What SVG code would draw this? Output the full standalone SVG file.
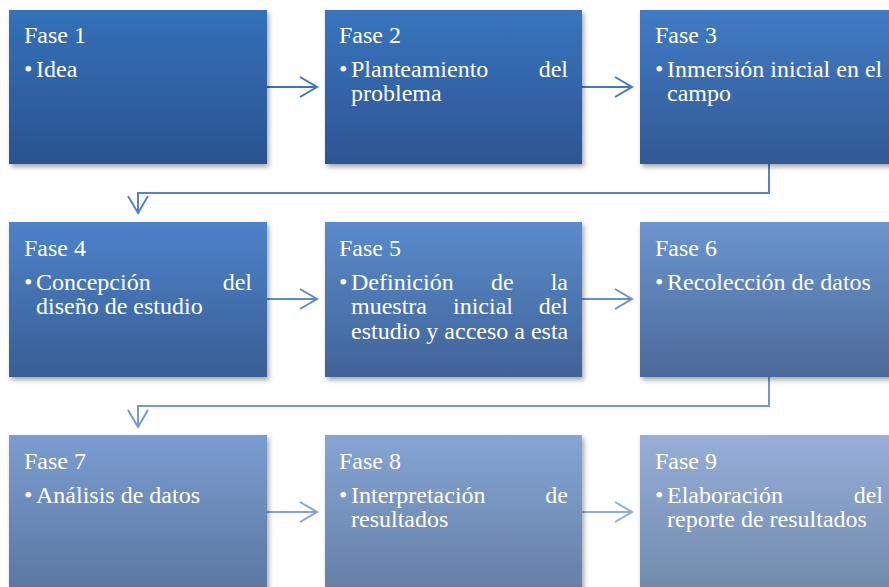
<svg xmlns="http://www.w3.org/2000/svg" width="889" height="587" viewBox="0 0 889 587">
<style>
.t text{font-family:'Liberation Serif',Tinos,'Times New Roman',Times,'DejaVu Serif',serif;font-size:24px;fill:#ffffff}
.c{fill:none;stroke-width:2;stroke-linejoin:miter}
</style>
<defs>
<filter id="sh" x="-10%" y="-10%" width="125%" height="130%">
<feDropShadow dx="2" dy="3" stdDeviation="2.5" flood-color="#000" flood-opacity="0.35"/>
</filter>
<linearGradient id="g1" x1="0" y1="0" x2="0" y2="1"><stop offset="0" stop-color="#3471b9"/><stop offset="1" stop-color="#2a5390"/></linearGradient>
<linearGradient id="g2" x1="0" y1="0" x2="0" y2="1"><stop offset="0" stop-color="#3875bf"/><stop offset="1" stop-color="#2c5592"/></linearGradient>
<linearGradient id="g3" x1="0" y1="0" x2="0" y2="1"><stop offset="0" stop-color="#417bc4"/><stop offset="1" stop-color="#305995"/></linearGradient>
<linearGradient id="g4" x1="0" y1="0" x2="0" y2="1"><stop offset="0" stop-color="#4c83c9"/><stop offset="1" stop-color="#395e95"/></linearGradient>
<linearGradient id="g5" x1="0" y1="0" x2="0" y2="1"><stop offset="0" stop-color="#5a8bcb"/><stop offset="1" stop-color="#406398"/></linearGradient>
<linearGradient id="g6" x1="0" y1="0" x2="0" y2="1"><stop offset="0" stop-color="#6b95cd"/><stop offset="1" stop-color="#4b6a9a"/></linearGradient>
<linearGradient id="g7" x1="0" y1="0" x2="0" y2="1"><stop offset="0" stop-color="#7a9dd1"/><stop offset="1" stop-color="#5a76a0"/></linearGradient>
<linearGradient id="g8" x1="0" y1="0" x2="0" y2="1"><stop offset="0" stop-color="#86a5d5"/><stop offset="1" stop-color="#647fa5"/></linearGradient>
<linearGradient id="g9" x1="0" y1="0" x2="0" y2="1"><stop offset="0" stop-color="#97aed8"/><stop offset="1" stop-color="#6f89aa"/></linearGradient>
</defs>

<g id="connectors">
<g stroke="#3f74b9"><path class="c" d="M267 87H317M300 77L317 87L300 97"/></g>
<g stroke="#4479bd"><path class="c" d="M582 87H632M615 77L632 87L615 97"/></g>
<g stroke="#5683c2"><path class="c" d="M769 164V193H138V213M128 196L138 213L148 196"/></g>
<g stroke="#5f8ac6"><path class="c" d="M267 299H317M300 289L317 299L300 309"/></g>
<g stroke="#6890c9"><path class="c" d="M582 299H632M615 289L632 299L615 309"/></g>
<g stroke="#7699cd"><path class="c" d="M769 377V406H138V427M128 410L138 427L148 410"/></g>
<g stroke="#85a3d3"><path class="c" d="M267 512H317M300 502L317 512L300 522"/></g>
<g stroke="#91acd7"><path class="c" d="M582 512H632M615 502L632 512L615 522"/></g>
</g>

<g class="t" font-family="'Liberation Serif', serif">
<g id="fase1">
<rect x="9" y="10" width="258" height="154" fill="url(#g1)" filter="url(#sh)"/>
<text x="24" y="43">Fase 1</text>
<text x="24" y="77">•</text><text x="36" y="77">Idea</text>
</g>
<g id="fase2">
<rect x="325" y="10" width="257" height="154" fill="url(#g2)" filter="url(#sh)"/>
<text x="339" y="43">Fase 2</text>
<text x="339" y="77">•</text><text x="351" y="77">Planteamiento</text><text x="568" y="77" text-anchor="end">del</text>
<text x="351" y="101">problema</text>
</g>
<g id="fase3">
<rect x="640" y="10" width="258" height="154" fill="url(#g3)" filter="url(#sh)"/>
<text x="655" y="43">Fase 3</text>
<text x="655" y="77">•</text><text x="667" y="77">Inmersión inicial en el</text>
<text x="667" y="101">campo</text>
</g>

<g id="fase4">
<rect x="9" y="222" width="258" height="155" fill="url(#g4)" filter="url(#sh)"/>
<text x="24" y="256">Fase 4</text>
<text x="24" y="290">•</text><text x="36" y="290">Concepción</text><text x="252" y="290" text-anchor="end">del</text>
<text x="36" y="314">diseño de estudio</text>
</g>
<g id="fase5">
<rect x="325" y="222" width="257" height="155" fill="url(#g5)" filter="url(#sh)"/>
<text x="339" y="256">Fase 5</text>
<text x="339" y="290">•</text><text x="351" y="290">Definición</text><text x="491" y="290">de</text><text x="568" y="290" text-anchor="end">la</text>
<text x="351" y="314">muestra</text><text x="453" y="314">inicial</text><text x="568" y="314" text-anchor="end">del</text>
<text x="351" y="339">estudio y acceso a esta</text>
</g>
<g id="fase6">
<rect x="640" y="222" width="258" height="155" fill="url(#g6)" filter="url(#sh)"/>
<text x="655" y="256">Fase 6</text>
<text x="655" y="290">•</text><text x="667" y="290">Recolección de datos</text>
</g>

<g id="fase7">
<rect x="9" y="435" width="258" height="160" fill="url(#g7)" filter="url(#sh)"/>
<text x="24" y="469">Fase 7</text>
<text x="24" y="503">•</text><text x="36" y="503">Análisis de datos</text>
</g>
<g id="fase8">
<rect x="325" y="435" width="257" height="160" fill="url(#g8)" filter="url(#sh)"/>
<text x="339" y="469">Fase 8</text>
<text x="339" y="503">•</text><text x="351" y="503">Interpretación</text><text x="568" y="503" text-anchor="end">de</text>
<text x="351" y="527">resultados</text>
</g>
<g id="fase9">
<rect x="640" y="435" width="258" height="160" fill="url(#g9)" filter="url(#sh)"/>
<text x="655" y="469">Fase 9</text>
<text x="655" y="503">•</text><text x="667" y="503">Elaboración</text><text x="883" y="503" text-anchor="end">del</text>
<text x="667" y="527">reporte de resultados</text>
</g>
</g>
</svg>
